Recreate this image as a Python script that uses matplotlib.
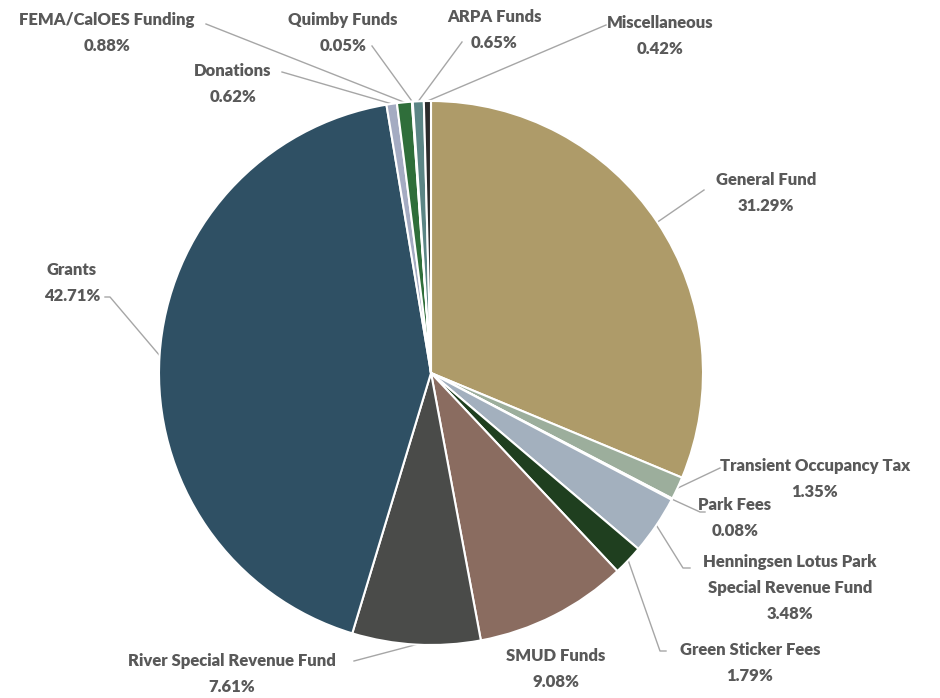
import matplotlib
matplotlib.use("Agg")
import matplotlib.pyplot as plt
import numpy as np

categories = ["General Fund", "Transient Occupancy Tax", "Park Fees",
              "Henningsen Lotus Park\nSpecial Revenue Fund", "Green Sticker Fees",
              "SMUD Funds", "River Special Revenue Fund", "Grants", "Donations",
              "FEMA/CalOES Funding", "Quimby Funds", "ARPA Funds", "Miscellaneous"]
values = [31.29, 1.35, 0.08, 3.48, 1.79, 9.08, 7.61, 42.71, 0.62, 0.88, 0.05, 0.65, 0.42]
colors = ["#AE9B69", "#9CAE9C", "#D9D9D9", "#A3B0BE", "#1F3F1F", "#8A6C60",
          "#4A4B49", "#2F5064", "#A4ABC2", "#2F6E3A", "#7F9F9F", "#5B8585", "#2B2B2B"]

W, H = 940, 698
fig = plt.figure(figsize=(W / 100, H / 100), dpi=100)
ax = fig.add_axes([0, 0, 1, 1])

cx, cy, R = 431, 373, 272
def Y(yp):
    return H - yp

ax.pie(values, colors=colors, startangle=90, counterclock=False,
       center=(cx, Y(cy)), radius=R, frame=True,
       wedgeprops=dict(edgecolor="white", linewidth=1.5))
ax.set_xlim(0, W)
ax.set_ylim(0, H)
ax.axis("off")

# label layout: (text center x, first line y, leader path points)
layout = [
    (766, 180, [(704, 190)]),
    (815, 466, [(720, 468)]),
    (735, 505, [(700, 512), (705, 512)]),
    (790, 562, [(683, 568), (690, 568)]),
    (750, 650, [(660, 651), (666, 651)]),
    (556, 656, None),
    (232, 661, [(354, 661)]),
    (72, 270, [(110, 297), (105, 297)]),
    (233, 71, [(282, 72)]),
    (107, 20, [(206, 24)]),
    (343, 20, [(372, 46)]),
    (494, 17, [(462, 42)]),
    (660, 23, [(606, 25)]),
]

total = sum(values)
cum = 0.0
fam = ["Lato", "DejaVu Sans"]
for cat, v, (tx, ty, path) in zip(categories, values, layout):
    mid = 90 - 360 * (cum + v / 2) / total
    cum += v
    lines = cat.split("\n") + [f"{v:.2f}%"]
    for i, ln in enumerate(lines):
        ax.text(tx, Y(ty + i * 26), ln, ha="center", va="center",
                fontsize=12, fontweight="heavy", color="#595959", family=fam)
    if path is not None:
        sx = cx + R * np.cos(np.radians(mid))
        sy = cy - R * np.sin(np.radians(mid))
        xs = [sx] + [p[0] for p in path]
        ys = [Y(sy)] + [Y(p[1]) for p in path]
        ax.plot(xs, ys, color="#A6A6A6", lw=1, zorder=0)

fig.savefig("out.png", dpi=100)
